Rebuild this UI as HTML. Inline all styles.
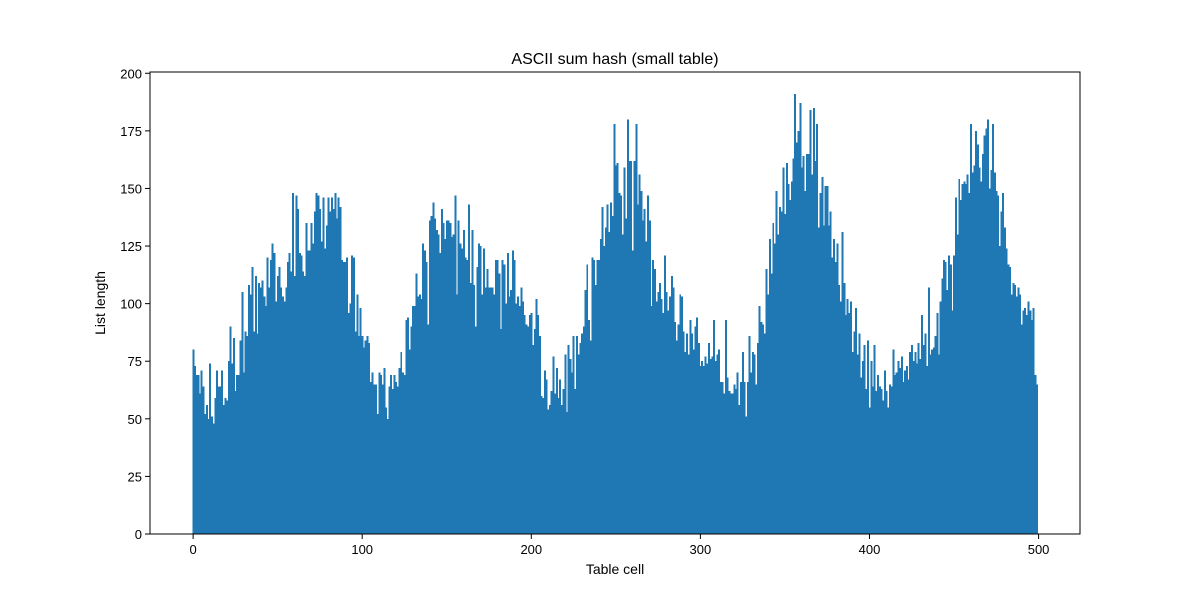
<!DOCTYPE html>
<html><head><meta charset="utf-8"><style>
html,body{margin:0;padding:0;background:#fff;}
svg text{font-family:"Liberation Sans","DejaVu Sans",sans-serif;fill:#000;}
</style></head><body>
<svg id="chart" width="1200" height="600" xmlns="http://www.w3.org/2000/svg">
<rect width="1200" height="600" fill="#fff"/>
<text x="615" y="64" text-anchor="middle" font-size="16">ASCII sum hash (small table)</text>
<g id="bars" shape-rendering="crispEdges"></g>
<g id="axes"></g>
<text x="615" y="574" text-anchor="middle" font-size="14">Table cell</text>
<text x="0" y="0" transform="translate(105,303) rotate(-90)" text-anchor="middle" font-size="14">List length</text>
</svg>
<script>
const xTicks = [0,100,200,300,400,500];
const yTicks = [0,25,50,75,100,125,150,175,200];
const seg1 = [80,73,69,69,61,71,64,52,56,50,74,51,48,59,71,64,64,71,56,59,58,75,90,74,85,62,69,69,84,105,70,88,86,108,104,116,88,112,87,109,107,110,103,99,120,107,119,126,122,101,112,116,107,103,101,107,118,122,114,148,112,147,141,122,121,114,112,135,123,123,135,126,140,148,147,141,127,146,124,134,146,140,146,141,148,137,146,142,119,118,118,120,96,100,121,120,88,104,86];
const seg2 = [98,86,81,84,86,83,66,70,65,65,52,70,69,65,72,55,50,64,69,63,69,66,64,72,79,70,69,93,94,80,90,99,99,113,103,104,102,126,123,118,91,136,138,144,137,132,130,122,141,135,128,136,136,135,129,130,147,104,136,126,124,132,120,119,143,109,132,108,90,116,126,125,104,124,107,115,107,107,107,104,119,119,113,89,119,117,100,122,103,106,123,119,100,103,99,107,101,95,91,90,95];
const seg3 = [96,82,89,102,95,86,60,59,71,67,54,56,62,77,61,72,59,67,56,63,78,53,82,76,70,86,63,86,78,83,87,90,106,117,93,84,120,119,108,119,119,128,142,125,133,143,131,144,138,178,160,161,148,147,130,159,137,180,162,162,123,162,178,143,156,149,136,141,127,147,136,99,119,115,101,105,109,102,96,121,105,97,103,112,107,92,84,91,104,103,88,79,87,78,93,87,80,90,94,83];
const seg4 = [73,75,73,77,74,83,76,77,93,75,78,80,66,66,61,93,68,62,61,61,65,63,70,56,66,79,66,51,66,86,70,79,78,65,83,99,92,91,87,115,104,128,113,135,126,149,130,142,140,159,139,161,152,145,153,163,191,170,175,187,159,164,149,165,165,184,156,185,162,178,133,148,155,134,151,151,134,140,120,128,118,126,108,101,131,109,95,102,96,101,79,88,98,78,87,68,75,82,63,84];
const seg5 = [55,75,64,82,62,69,64,63,58,71,62,55,65,64,80,69,70,75,72,77,66,71,73,67,79,82,75,79,74,83,76,95,82,87,73,107,78,80,81,86,96,78,101,111,119,118,106,121,117,97,121,146,130,154,145,152,153,152,156,148,178,157,160,175,169,159,153,165,173,176,180,150,158,178,157,149,147,125,140,148,133,124,117,116,104,109,108,103,107,104,91,97,98,95,101,97,93,98,69,65];
const values = seg1.concat(seg2, seg3, seg4, seg5);

const NS = "http://www.w3.org/2000/svg";
const L = 150, R = 1080, T = 72, B = 534;
const xMin = -0.5 - 0.05 * values.length, xMax = values.length - 0.5 + 0.05 * values.length;
const yMax = Math.max(...values) * 1.05;
const sx = v => L + (v - xMin) / (xMax - xMin) * (R - L);
const sy = v => B - v / yMax * (B - T);

const barsG = document.getElementById('bars');
values.forEach((v, i) => {
  const r = document.createElementNS(NS, 'rect');
  const x0 = sx(i - 0.5), x1 = sx(i + 0.5);
  r.setAttribute('x', x0);
  r.setAttribute('width', x1 - x0 + 0.3);
  r.setAttribute('y', sy(v));
  r.setAttribute('height', B - sy(v));
  r.setAttribute('fill', '#1f77b4');
  
  
  barsG.appendChild(r);
});

const axesG = document.getElementById('axes');
const frame = document.createElementNS(NS, 'rect');
frame.setAttribute('x', L); frame.setAttribute('y', T);
frame.setAttribute('width', R - L); frame.setAttribute('height', B - T);
frame.setAttribute('fill', 'none'); frame.setAttribute('stroke', '#000'); frame.setAttribute('stroke-width', '1');


axesG.appendChild(frame);

xTicks.forEach(t => {
  const x = sx(t);
  const ln = document.createElementNS(NS, 'line');
  ln.setAttribute('x1', x); ln.setAttribute('x2', x); ln.setAttribute('y1', B); ln.setAttribute('y2', B + 5);
  ln.setAttribute('stroke', '#000');
  
  
  axesG.appendChild(ln);
  const tx = document.createElementNS(NS, 'text');
  tx.setAttribute('x', x); tx.setAttribute('y', B + 20);
  tx.setAttribute('text-anchor', 'middle'); tx.setAttribute('font-size', '13');
  tx.textContent = t;
  
  
  axesG.appendChild(tx);
});
yTicks.forEach(t => {
  const y = sy(t);
  const ln = document.createElementNS(NS, 'line');
  ln.setAttribute('x1', L - 5); ln.setAttribute('x2', L); ln.setAttribute('y1', y); ln.setAttribute('y2', y);
  ln.setAttribute('stroke', '#000');
  
  
  axesG.appendChild(ln);
  const tx = document.createElementNS(NS, 'text');
  tx.setAttribute('x', L - 8); tx.setAttribute('y', y + 5);
  tx.setAttribute('text-anchor', 'end'); tx.setAttribute('font-size', '13');
  tx.textContent = t;
  
  
  axesG.appendChild(tx);
});
</script>
</body></html>
